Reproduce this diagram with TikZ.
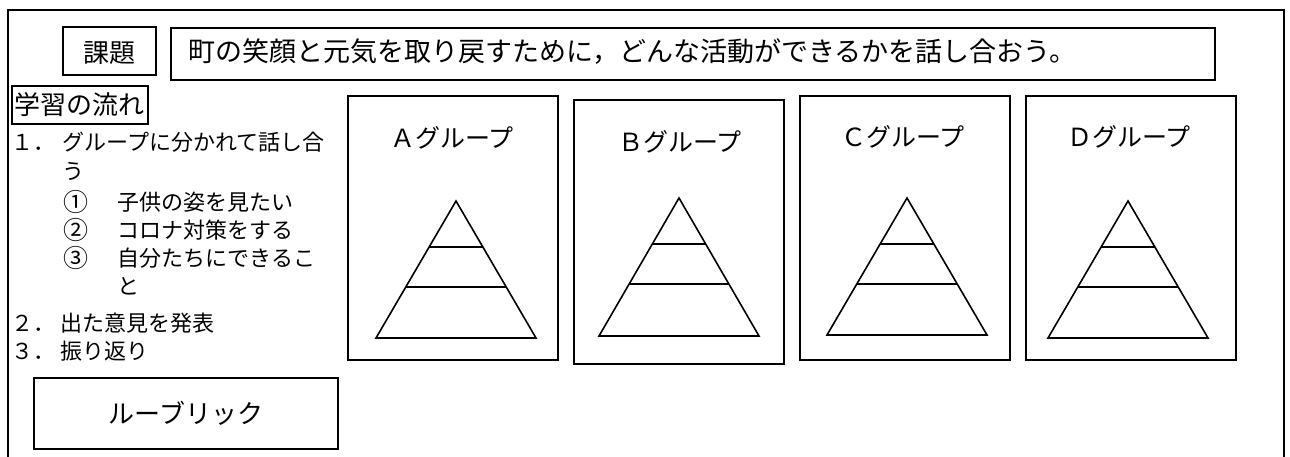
\documentclass[tikz,border=0pt]{standalone}
\usepackage{fontspec}
\setmainfont{Noto Sans CJK JP}
\usetikzlibrary{calc}
\begin{document}
\begin{tikzpicture}[x=1pt,y=-1pt,line width=1.6pt,
  frame/.style={draw,line width=1.6pt,inner sep=0pt,anchor=north west},
  txt/.style={inner sep=0pt,anchor=west,font=\fontsize{22}{22}\selectfont},
  circ/.style={inner sep=0pt,anchor=west,font=\fontsize{25}{25}\selectfont},
  grp/.style={frame,minimum width=210pt,minimum height=264pt},
  glabel/.style={inner sep=0pt,font=\fontsize{25}{25}\selectfont}]
\useasboundingbox (0,0) rectangle (1290,457);
% outer frame
\coordinate (oBL) at (8,460);
\coordinate (oTL) at (8,10);
\coordinate (oTR) at (1284,10);
\coordinate (oBR) at (1284,460);
\draw (oBL) -- (oTL) -- (oTR) -- (oBR);
% title row
\node[frame,minimum width=93pt,minimum height=48pt] (kadai) at (62,26) {};
\node[inner sep=0pt,font=\fontsize{26}{26}\selectfont] (kadaiT) at ([yshift=-2pt]kadai.center) {課題};
\node[frame,minimum width=1044pt,minimum height=52pt] (task) at (170,27) {};
\node[inner sep=0pt,anchor=west,font=\fontsize{27}{27}\selectfont] (taskT) at (188,52) {町の笑顔と元気を取り戻すために，どんな活動ができるかを話し合おう。};
% flow
\node[frame,minimum width=136pt,minimum height=38pt] (flow) at (11,85) {};
\node[inner sep=0pt,font=\fontsize{26}{26}\selectfont] (flowT) at (flow.center) {学習の流れ};
\node[txt] (n1) at (11,142) {１．};
\node[txt] (t1) at (62,142) {グループに分かれて話し合};
\node[txt] (t1b) at (62,171) {う};
\node[circ] (c1) at (63,202) {①};
\node[txt] (s1) at (117,202) {子供の姿を見たい};
\node[circ] (c2) at (63,230) {②};
\node[txt] (s2) at (117,230) {コロナ対策をする};
\node[circ] (c3) at (63,258) {③};
\node[txt] (s3) at (117,258) {自分たちにできるこ};
\node[txt] (s3b) at (117,286) {と};
\node[txt] (n2) at (11,323) {２．};
\node[txt] (t2) at (60,323) {出た意見を発表};
\node[txt] (n3) at (11,351) {３．};
\node[txt] (t3) at (60,351) {振り返り};
\node[frame,minimum width=304pt,minimum height=71pt] (rub) at (33,377) {};
\node[inner sep=0pt,font=\fontsize{26}{26}\selectfont] (rubT) at (rub.center) {ルーブリック};
% groups
\node[grp] (gA) at (347,95) {};
\node[grp] (gB) at (573,99) {};
\node[grp] (gC) at (799,95) {};
\node[grp] (gD) at (1025,95) {};
\node[glabel] (lA) at (452,138) {Ａグループ};
\node[glabel] (lB) at (680,142) {Ｂグループ};
\node[glabel] (lC) at (903,137) {Ｃグループ};
\node[glabel] (lD) at (1129,137) {Ｄグループ};
% pyramids
\foreach \n/\cx/\ty/\by in {A/456/201/338, B/679/198/336, C/907/198/335, D/1128/201/338}{
  \coordinate (p\n t) at (\cx,\ty);
  \coordinate (p\n l) at (\cx-80,\by);
  \coordinate (p\n r) at (\cx+80,\by);
  \draw[line join=miter] (p\n t) -- (p\n l) -- (p\n r) -- cycle;
  \pgfmathsetmacro{\fa}{46/(\by-\ty)}
  \pgfmathsetmacro{\fb}{86/(\by-\ty)}
  \draw ($(p\n t)!\fa!(p\n l)$) -- ($(p\n t)!\fa!(p\n r)$);
  \draw ($(p\n t)!\fb!(p\n l)$) -- ($(p\n t)!\fb!(p\n r)$);
}
\end{tikzpicture}
\end{document}
